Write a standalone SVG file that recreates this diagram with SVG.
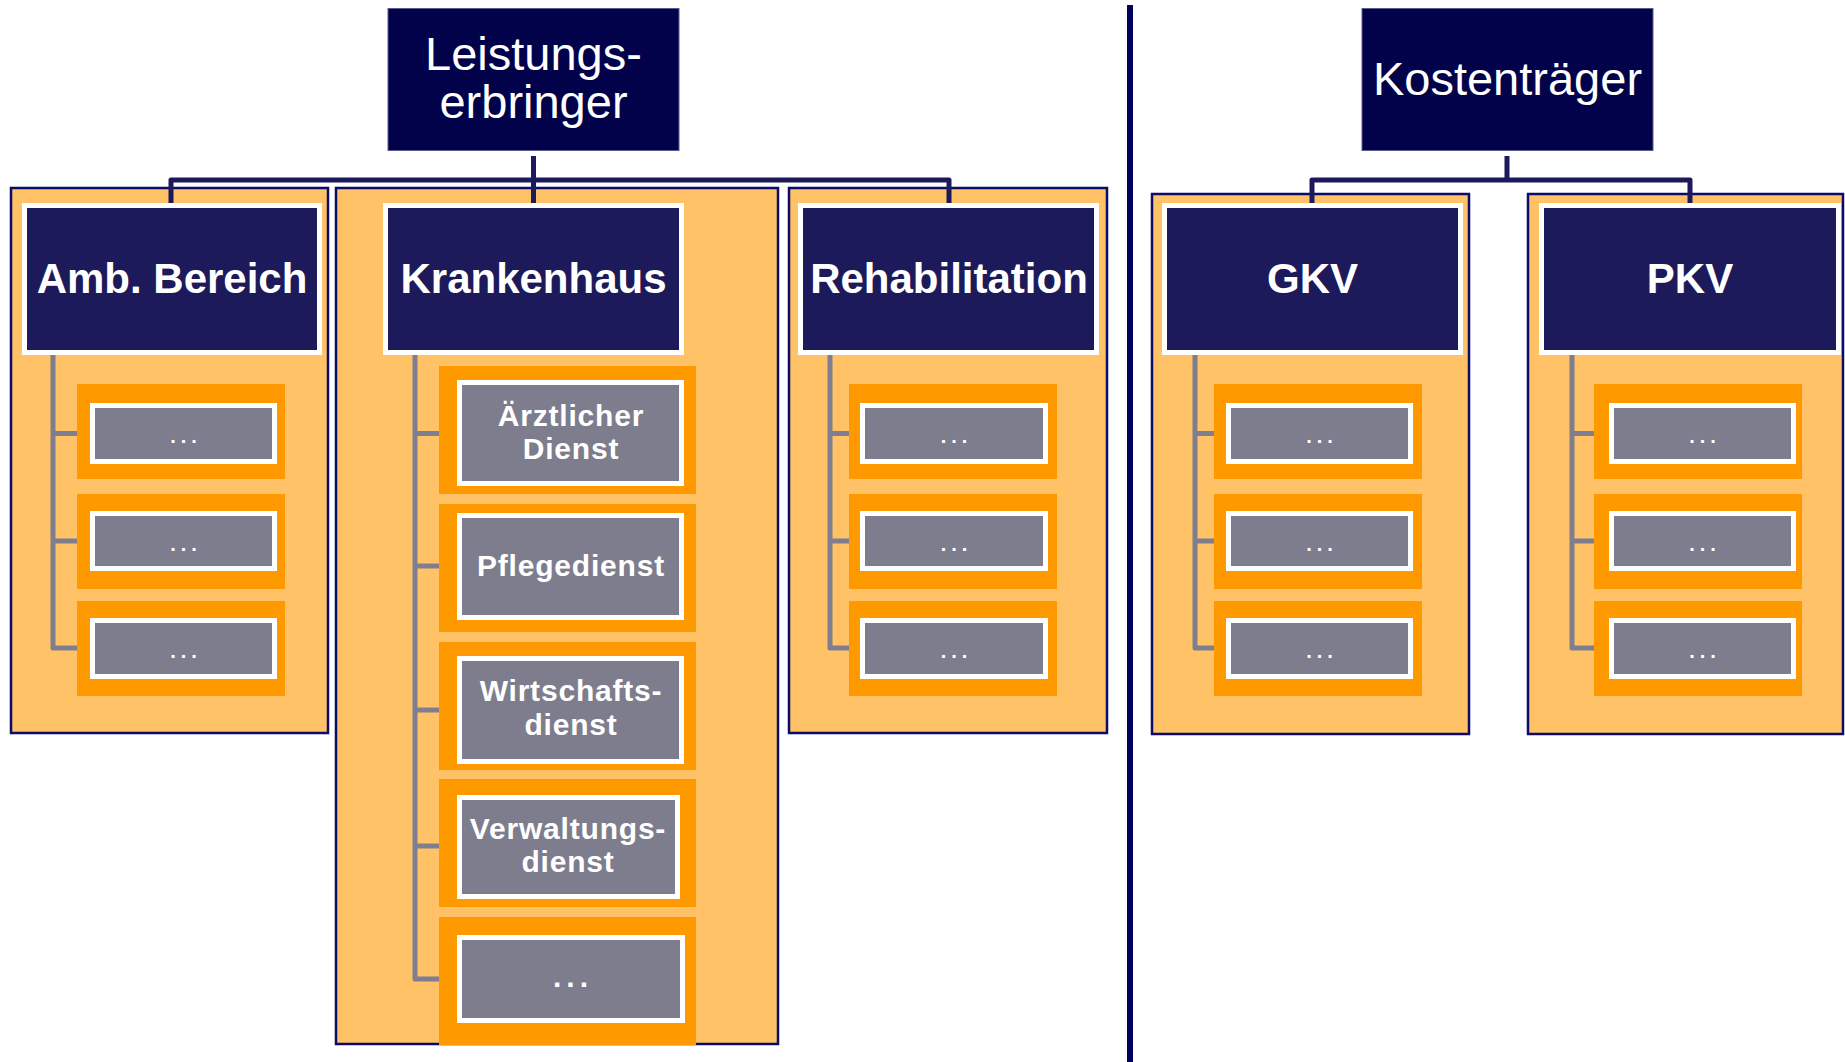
<svg xmlns="http://www.w3.org/2000/svg" width="1845" height="1062" viewBox="0 0 1845 1062">
<style>
.top{fill:#02024b;stroke:#5a5a90;stroke-width:1}
.toptxt{font-family:"Liberation Sans",Arial,sans-serif;font-size:47px;fill:#fff;text-anchor:middle}
.cont{fill:#ffc266;stroke:#0b0b6a;stroke-width:2.5}
.hdr{fill:#1d1a5b;stroke:#fff;stroke-width:5}
.hdrtxt{font-family:"Liberation Sans",Arial,sans-serif;font-weight:bold;font-size:42px;fill:#fff;text-anchor:middle}
.org{fill:#ff9900}
.item{fill:#7d7d8d;stroke:#fff;stroke-width:5}
.dots{font-family:"Liberation Sans",Arial,sans-serif;font-weight:bold;font-size:20px;fill:#fff;text-anchor:middle;letter-spacing:5px}
.itxt{font-family:"Liberation Sans",Arial,sans-serif;font-weight:bold;font-size:30px;fill:#fff;text-anchor:middle;letter-spacing:0.8px}
.nav{fill:none;stroke:#1c1a5c;stroke-width:5;stroke-linejoin:round}
.gry{fill:none;stroke:#7e7e90;stroke-width:5;stroke-linejoin:round}
</style>
<rect width="1845" height="1062" fill="#fff"/>

<!-- divider -->
<line x1="1130" y1="5" x2="1130" y2="1062" stroke="#00005e" stroke-width="6"/>

<!-- containers -->
<g id="cont-amb"><rect class="cont" x="11" y="188" width="317" height="545"/></g>
<g id="cont-kh"><rect class="cont" x="336" y="188" width="442" height="856"/></g>
<g id="cont-reha"><rect class="cont" x="789" y="188" width="318" height="545"/></g>
<g id="cont-gkv"><rect class="cont" x="1152" y="194" width="317" height="540"/></g>
<g id="cont-pkv"><rect class="cont" x="1528" y="194" width="315" height="540"/></g>

<!-- connectors -->
<g id="connectors">
  <path class="nav" d="M533.5,156 V180 M171,203 V180 H949 V203 M533.5,180 V203"/>
  <path class="nav" d="M1507,156 V180 M1312,203 V180 H1690 V203"/>
  <path class="gry" d="M53,355 V648 H90 M53,433.5 H90 M53,541 H90"/>
  <path class="gry" d="M830,355 V648 H860 M830,433.5 H860 M830,541 H860"/>
  <path class="gry" d="M1195,355 V648 H1226 M1195,433.5 H1226 M1195,541 H1226"/>
  <path class="gry" d="M1572,355 V648 H1609 M1572,433.5 H1609 M1572,541 H1609"/>
  <path class="gry" d="M415,355 V979 H457 M415,433.5 H457 M415,566 H457 M415,710 H457 M415,846 H457"/>
</g>

<!-- top nodes -->
<g id="leistungserbringer">
  <rect class="top" x="388" y="8.5" width="291" height="142"/>
  <text class="toptxt" x="533.5" y="70">Leistungs-</text>
  <text class="toptxt" x="533.5" y="118">erbringer</text>
</g>
<g id="kostentraeger">
  <rect class="top" x="1362" y="8.5" width="291" height="142"/>
  <text class="toptxt" x="1507.5" y="95">Kostenträger</text>
</g>

<!-- headers -->
<g id="amb">
  <rect class="hdr" x="24.5" y="205.5" width="295" height="147"/>
  <text class="hdrtxt" x="172" y="293">Amb. Bereich</text>
</g>
<g id="krankenhaus">
  <rect class="hdr" x="385.5" y="205.5" width="296" height="147"/>
  <text class="hdrtxt" x="533.5" y="293">Krankenhaus</text>
</g>
<g id="rehabilitation">
  <rect class="hdr" x="800.5" y="205.5" width="296" height="147"/>
  <text class="hdrtxt" x="949" y="293">Rehabilitation</text>
</g>
<g id="gkv">
  <rect class="hdr" x="1164.5" y="205.5" width="296" height="147"/>
  <text class="hdrtxt" x="1312.5" y="293">GKV</text>
</g>
<g id="pkv">
  <rect class="hdr" x="1541.5" y="205.5" width="297" height="147"/>
  <text class="hdrtxt" x="1690" y="293">PKV</text>
</g>

<!-- Amb items -->
<g id="amb-1"><rect class="org" x="77" y="384" width="208" height="95"/><rect class="item" x="92.5" y="405.5" width="182" height="56"/><text class="dots" x="186" y="443">...</text></g>
<g id="amb-2"><rect class="org" x="77" y="494" width="208" height="95"/><rect class="item" x="92.5" y="513.5" width="182" height="55"/><text class="dots" x="186" y="551">...</text></g>
<g id="amb-3"><rect class="org" x="77" y="601" width="208" height="95"/><rect class="item" x="92.5" y="620.5" width="182" height="56"/><text class="dots" x="186" y="658">...</text></g>

<!-- Reha items -->
<g id="reha-1"><rect class="org" x="849" y="384" width="208" height="95"/><rect class="item" x="862.5" y="405.5" width="183" height="56"/><text class="dots" x="956.5" y="443">...</text></g>
<g id="reha-2"><rect class="org" x="849" y="494" width="208" height="95"/><rect class="item" x="862.5" y="513.5" width="183" height="55"/><text class="dots" x="956.5" y="551">...</text></g>
<g id="reha-3"><rect class="org" x="849" y="601" width="208" height="95"/><rect class="item" x="862.5" y="620.5" width="183" height="56"/><text class="dots" x="956.5" y="658">...</text></g>

<!-- GKV items -->
<g id="gkv-1"><rect class="org" x="1214" y="384" width="208" height="95"/><rect class="item" x="1228.5" y="405.5" width="182" height="56"/><text class="dots" x="1322" y="443">...</text></g>
<g id="gkv-2"><rect class="org" x="1214" y="494" width="208" height="95"/><rect class="item" x="1228.5" y="513.5" width="182" height="55"/><text class="dots" x="1322" y="551">...</text></g>
<g id="gkv-3"><rect class="org" x="1214" y="601" width="208" height="95"/><rect class="item" x="1228.5" y="620.5" width="182" height="56"/><text class="dots" x="1322" y="658">...</text></g>

<!-- PKV items -->
<g id="pkv-1"><rect class="org" x="1594" y="384" width="208" height="95"/><rect class="item" x="1611.5" y="405.5" width="182" height="56"/><text class="dots" x="1705" y="443">...</text></g>
<g id="pkv-2"><rect class="org" x="1594" y="494" width="208" height="95"/><rect class="item" x="1611.5" y="513.5" width="182" height="55"/><text class="dots" x="1705" y="551">...</text></g>
<g id="pkv-3"><rect class="org" x="1594" y="601" width="208" height="95"/><rect class="item" x="1611.5" y="620.5" width="182" height="56"/><text class="dots" x="1705" y="658">...</text></g>

<!-- Krankenhaus items -->
<g id="kh-aerztlich"><rect class="org" x="439" y="366" width="257" height="128"/><rect class="item" x="459.5" y="382.5" width="222" height="101"/><text class="itxt" x="571" y="426">Ärztlicher</text><text class="itxt" x="571" y="459">Dienst</text></g>
<g id="kh-pflege"><rect class="org" x="439" y="504" width="257" height="128"/><rect class="item" x="459.5" y="515.5" width="222" height="102"/><text class="itxt" x="571" y="576">Pflegedienst</text></g>
<g id="kh-wirtschaft"><rect class="org" x="439" y="642" width="257" height="128"/><rect class="item" x="459.5" y="658.5" width="222" height="103"/><text class="itxt" x="571" y="701">Wirtschafts-</text><text class="itxt" x="571" y="735">dienst</text></g>
<g id="kh-verwaltung"><rect class="org" x="439" y="779" width="257" height="128"/><rect class="item" x="459.5" y="797.5" width="218" height="99"/><text class="itxt" x="568" y="839">Verwaltungs-</text><text class="itxt" x="568" y="872">dienst</text></g>
<g id="kh-more"><rect class="org" x="439" y="917" width="257" height="128"/><rect class="item" x="459.5" y="937.5" width="223" height="83"/><text class="itxt" x="573" y="987" style="letter-spacing:5px">...</text></g>
</svg>
